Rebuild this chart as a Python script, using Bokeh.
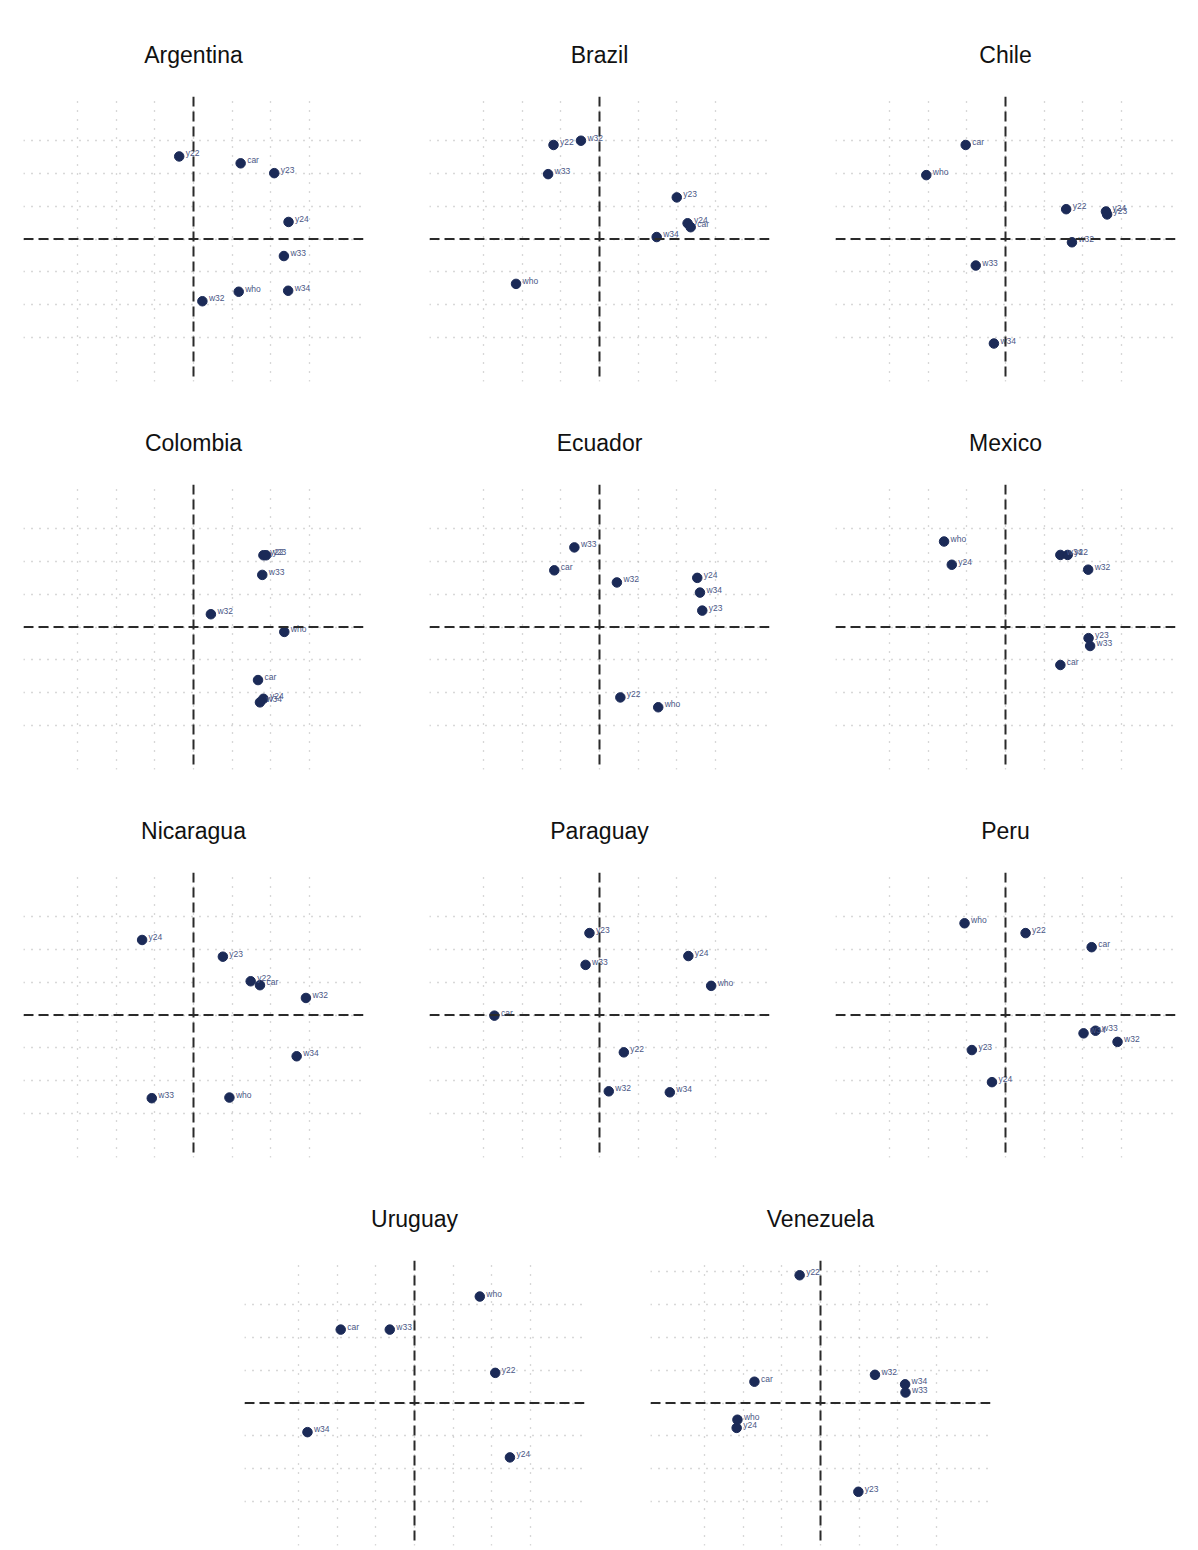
from bokeh.plotting import figure
from bokeh.models import Span, FixedTicker, Spacer
from bokeh.layouts import row, column
from bokeh.embed import file_html
from bokeh.resources import INLINE

# ---------------- data (grid units) ----------------
ARG_LABELS = ["y22", "car", "y23", "y24", "w33", "w34", "who", "w32"]
ARG_X = [-0.37, 1.22, 2.09, 2.46, 2.34, 2.45, 1.17, 0.23]
ARG_Y = [2.52, 2.31, 2.01, 0.52, -0.52, -1.58, -1.61, -1.90]

BRA_LABELS = ["y22", "w32", "w33", "y23", "y24", "car", "w34", "who"]
BRA_X = [-1.19, -0.48, -1.33, 2.00, 2.28, 2.36, 1.48, -2.16]
BRA_Y = [2.87, 3.00, 1.98, 1.27, 0.48, 0.36, 0.06, -1.37]

CHL_LABELS = ["car", "who", "y22", "y23", "y24", "w32", "w33", "w34"]
CHL_X = [-1.03, -2.05, 1.57, 2.63, 2.60, 1.72, -0.77, -0.30]
CHL_Y = [2.87, 1.95, 0.91, 0.75, 0.84, -0.10, -0.81, -3.19]

COL_LABELS = ["y22", "y23", "w33", "w32", "who", "car", "y24", "w34"]
COL_X = [1.81, 1.88, 1.78, 0.45, 2.35, 1.67, 1.81, 1.72]
COL_Y = [2.19, 2.19, 1.59, 0.39, -0.15, -1.62, -2.19, -2.30]

ECU_LABELS = ["w33", "car", "w32", "y24", "w34", "y23", "y22", "who"]
ECU_X = [-0.65, -1.17, 0.45, 2.53, 2.60, 2.66, 0.54, 1.52]
ECU_Y = [2.43, 1.73, 1.36, 1.50, 1.05, 0.50, -2.15, -2.45]

MEX_LABELS = ["who", "y24", "w34", "y22", "w32", "y23", "w33", "car"]
MEX_X = [-1.59, -1.39, 1.42, 1.61, 2.14, 2.15, 2.19, 1.42]
MEX_Y = [2.61, 1.90, 2.20, 2.20, 1.75, -0.34, -0.58, -1.16]

NIC_LABELS = ["y24", "y23", "y22", "car", "w32", "w34", "w33", "who"]
NIC_X = [-1.33, 0.76, 1.48, 1.72, 2.91, 2.67, -1.08, 0.93]
NIC_Y = [2.29, 1.78, 1.03, 0.91, 0.52, -1.26, -2.54, -2.52]

PRY_LABELS = ["y23", "w33", "y24", "who", "car", "y22", "w32", "w34"]
PRY_X = [-0.26, -0.36, 2.30, 2.89, -2.72, 0.63, 0.24, 1.82]
PRY_Y = [2.50, 1.53, 1.80, 0.89, -0.02, -1.14, -2.33, -2.36]

PER_LABELS = ["who", "y22", "car", "w34", "w33", "w32", "y23", "y24"]
PER_X = [-1.06, 0.52, 2.23, 2.02, 2.33, 2.90, -0.87, -0.35]
PER_Y = [2.80, 2.50, 2.07, -0.56, -0.48, -0.82, -1.07, -2.05]

URY_LABELS = ["who", "car", "w33", "y22", "w34", "y24"]
URY_X = [1.69, -1.91, -0.64, 2.09, -2.77, 2.47]
URY_Y = [3.25, 2.24, 2.24, 0.92, -0.89, -1.66]

VEN_LABELS = ["y22", "car", "w32", "w34", "w33", "who", "y24", "y23"]
VEN_X = [-0.54, -1.71, 1.41, 2.19, 2.20, -2.15, -2.17, 0.98]
VEN_Y = [3.90, 0.65, 0.86, 0.57, 0.32, -0.51, -0.76, -2.71]

COUNTRIES = ["Argentina", "Brazil", "Chile", "Colombia", "Ecuador", "Mexico",
             "Nicaragua", "Paraguay", "Peru", "Uruguay", "Venezuela"]
SERIES = [
    (ARG_LABELS, ARG_X, ARG_Y), (BRA_LABELS, BRA_X, BRA_Y), (CHL_LABELS, CHL_X, CHL_Y),
    (COL_LABELS, COL_X, COL_Y), (ECU_LABELS, ECU_X, ECU_Y), (MEX_LABELS, MEX_X, MEX_Y),
    (NIC_LABELS, NIC_X, NIC_Y), (PRY_LABELS, PRY_X, PRY_Y), (PER_LABELS, PER_X, PER_Y),
    (URY_LABELS, URY_X, URY_Y), (VEN_LABELS, VEN_X, VEN_Y),
]
X_TICKS = [-3, -2, -1, 0, 1, 2, 3]
Y_TICKS = [-3, -2, -1, 0, 1, 2, 3]
Y_TICKS_VEN = [-3, -2, -1, 0, 1, 2, 3, 4]

POINT_COLOR = "#1b2a57"
LABEL_COLOR = "#4a5785"
GRID_COLOR = "#b0b0b0"


def make_panel(name, labels, xs, ys, yticks):
    p = figure(frame_width=340, frame_height=285,
               x_range=(-4.4, 4.4), y_range=(-4.35, 4.35),
               x_axis_location=None, y_axis_location=None,
               toolbar_location=None, output_backend="svg",
               min_border_left=23, min_border_right=10,
               min_border_top=96, min_border_bottom=3,
               title=name)
    p.outline_line_color = None
    p.background_fill_color = "white"
    p.border_fill_color = "white"
    p.title.align = "center"
    p.title.text_font = "Liberation Sans"
    p.title.text_font_size = "23px"
    p.title.text_font_style = "normal"
    p.title.text_color = "#111111"
    p.title.standoff = 58

    p.xgrid.ticker = FixedTicker(ticks=X_TICKS)
    p.ygrid.ticker = FixedTicker(ticks=yticks)
    p.xgrid.grid_line_color = GRID_COLOR
    p.ygrid.grid_line_color = GRID_COLOR
    p.xgrid.grid_line_dash = "1 8"
    p.ygrid.grid_line_dash = "1 7"
    p.xgrid.grid_line_width = 1.3
    p.ygrid.grid_line_width = 1.3

    p.add_layout(Span(location=0, dimension="width", line_color="#2a2a2a",
                      line_dash="10 5", line_width=2))
    p.add_layout(Span(location=0, dimension="height", line_color="#2a2a2a",
                      line_dash="10 5", line_width=2))

    p.scatter(xs, ys, size=9.5, color=POINT_COLOR)
    p.text(xs, ys, text=labels, x_offset=6.5, y_offset=-3,
           text_font_size="8.5px", text_color=LABEL_COLOR,
           text_baseline="alphabetic", text_align="left")
    return p


panels = []
for name, (labels, xs, ys) in zip(COUNTRIES, SERIES):
    yt = Y_TICKS_VEN if name == "Venezuela" else Y_TICKS
    panels.append(make_panel(name, labels, xs, ys, yt))

rows = [
    row(panels[0:3], spacing=33),
    row(panels[3:6], spacing=33),
    row(panels[6:9], spacing=33),
    row([Spacer(width=188, height=10), panels[9], panels[10]], spacing=33),
]
layout = column(rows, spacing=4)

open("out.html", "w").write(file_html(layout, INLINE))
